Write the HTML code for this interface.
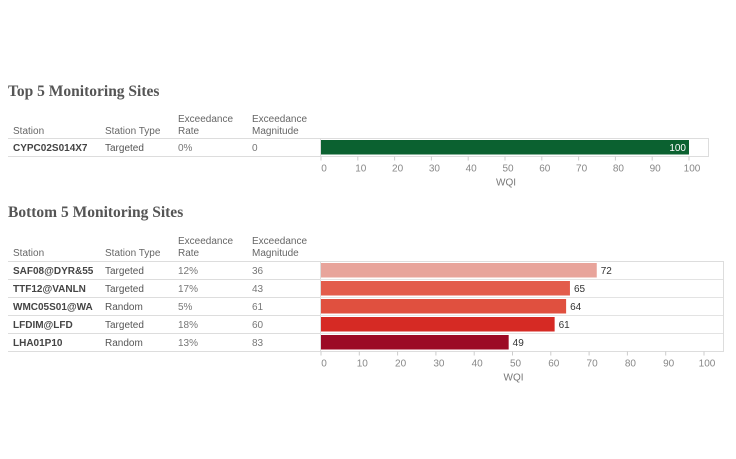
<!DOCTYPE html>
<html><head><meta charset="utf-8"><style>
body{margin:0;background:#fff;width:736px;height:454px;overflow:hidden}
svg text{font-family:"Liberation Sans",sans-serif}
svg text.ttl{font-family:"Liberation Serif",serif}
</style></head><body>
<svg id="s" width="736" height="454"></svg>
<script>
const topStations=["CYPC02S014X7"];
const topTypes=["Targeted"];
const topRates=["0%"];
const topMags=["0"];
const topWQI=[100];
const topColors=["#0b6130"];
const botStations=["SAF08@DYR&55","TTF12@VANLN","WMC05S01@WA","LFDIM@LFD","LHA01P10"];
const botTypes=["Targeted","Targeted","Random","Targeted","Random"];
const botRates=["12%","17%","5%","18%","13%"];
const botMags=["36","43","61","60","83"];
const botWQI=[72,65,64,61,49];
const botColors=["#e8a49b","#e35c4b","#e0503f","#d62a24","#9c0a25"];
const ticks=[0,10,20,30,40,50,60,70,80,90,100];

const svg=document.getElementById('s');
const NS="http://www.w3.org/2000/svg";
function mk(tag,attrs,text,name){
  const e=document.createElementNS(NS,tag);
  for(const k in attrs)e.setAttribute(k,attrs[k]);
  if(text!==undefined)e.textContent=text;
  
  
  svg.appendChild(e);return e;
}
function section(title,titleY,headY,rowTop,stations,types,rates,mags,vals,colors,x100,boxR,prefix,labelInside){
  const x=v=>321+(x100-321)*v/100;
  mk('text',{class:'ttl',x:8,y:titleY,"font-weight":"bold","font-size":"15.5",fill:"#555"},title,prefix+'-title');
  const hc="#666",hs="10";
  mk('text',{x:13,y:headY+12,'font-size':hs,fill:hc},"Station",prefix+'-station-header');
  mk('text',{x:105,y:headY+12,'font-size':hs,fill:hc},"Station Type",prefix+'-type-header');
  mk('text',{x:178,y:headY,'font-size':hs,fill:hc},"Exceedance",prefix+'-rate-header');
  mk('text',{x:178,y:headY+12,'font-size':hs,fill:hc},"Rate",prefix+'-rate-header-2');
  mk('text',{x:252,y:headY,'font-size':hs,fill:hc},"Exceedance",prefix+'-mag-header');
  mk('text',{x:252,y:headY+12,'font-size':hs,fill:hc},"Magnitude",prefix+'-mag-header-2');
  const rh=18,n=vals.length;
  mk('rect',{x:320.5,y:rowTop+0.5,width:boxR-320,height:rh*n,fill:"none",stroke:"#ddd"},undefined,prefix+'-plot-frame');
  for(let i=0;i<=n;i++){
    mk('line',{x1:8,x2:320,y1:rowTop+0.5+i*rh,y2:rowTop+0.5+i*rh,stroke:"#ddd"},undefined,prefix+'-row-line');
    if(i>0&&i<n)mk('line',{x1:320,x2:boxR,y1:rowTop+0.5+i*rh,y2:rowTop+0.5+i*rh,stroke:"#e3e3e3"},undefined,prefix+'-plot-row-line');
  }
  for(let i=0;i<n;i++){
    const ty=rowTop+i*rh+13;
    mk('text',{x:13,y:ty,'font-size':"10",'font-weight':'bold',fill:"#444"},stations[i],prefix+'-station');
    mk('text',{x:105,y:ty,'font-size':"10",fill:"#555"},types[i],prefix+'-station-type');
    mk('text',{x:178,y:ty,'font-size':"10",fill:"#777"},rates[i],prefix+'-exceedance-rate');
    mk('text',{x:252,y:ty,'font-size':"10",fill:"#777"},mags[i],prefix+'-exceedance-magnitude');
    mk('rect',{x:x(0),y:rowTop+i*rh+2,width:x(vals[i])-x(0),height:rh-3.5,fill:colors[i]},undefined,prefix+'-bar');
    if(labelInside)mk('text',{x:x(vals[i])-3,y:ty,'font-size':"10",fill:"#fff",'text-anchor':'end'},String(vals[i]),prefix+'-bar-label');
    else mk('text',{x:x(vals[i])+4,y:ty,'font-size':"10",fill:"#333"},String(vals[i]),prefix+'-bar-label');
  }
  const ay=rowTop+rh*n+0.5;
  ticks.forEach(t=>{
    mk('line',{x1:x(t),x2:x(t),y1:ay,y2:ay+4,stroke:"#ccc"},undefined,prefix+'-tick');
    mk('text',{x:x(t)+3,y:ay+15,'font-size':"10",fill:"#888",'text-anchor':'middle'},String(t),prefix+'-tick-label');
  });
  mk('text',{x:x(50)+1,y:ay+29,'font-size':"10",fill:"#777",'text-anchor':'middle'},"WQI",prefix+'-x-axis-title');
}
section("Top 5 Monitoring Sites",96,122,138,topStations,topTypes,topRates,topMags,topWQI,topColors,689,708,'top',true);
section("Bottom 5 Monitoring Sites",217,244,261,botStations,botTypes,botRates,botMags,botWQI,botColors,704,723,'bottom',false);
</script>
</body></html>
